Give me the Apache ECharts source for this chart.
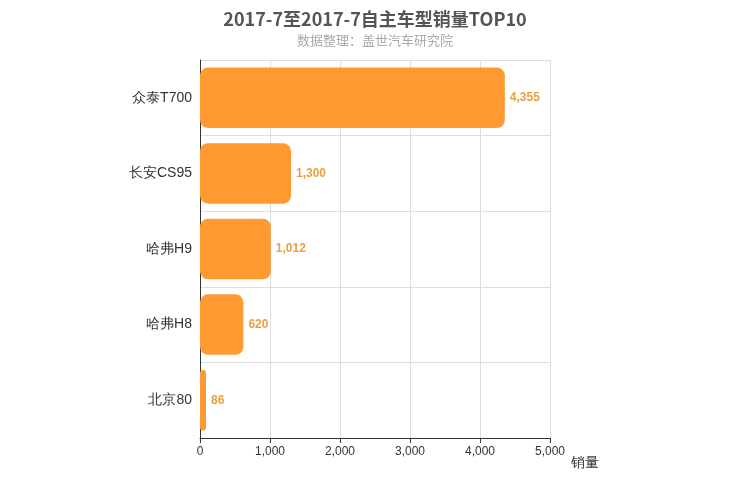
<!DOCTYPE html>
<html><head><meta charset="utf-8">
<script src="https://cdn.jsdelivr.net/npm/echarts@6/dist/echarts.min.js"></script>
<style>html,body{margin:0;padding:0}#c{width:750px;height:500px}</style>
</head><body><div id="c"></div>
<script>
var categories = ['北京80','哈弗H8','哈弗H9','长安CS95','众泰T700'];
var values = [86,620,1012,1300,4355];
var chart = echarts.init(document.getElementById('c'));
chart.setOption({
  title:{text:'2017-7至2017-7自主车型销量TOP10',subtext:'数据整理：盖世汽车研究院',left:'center',top:5,
    textStyle:{fontSize:18,fontWeight:'bold',color:'#555',fontFamily:'Noto Sans CJK SC'},
    subtextStyle:{fontSize:13,color:'#aaa',fontFamily:'Noto Sans CJK SC'},itemGap:6},
  grid:{left:200,right:200,top:60,bottom:62},
  xAxis:{type:'value',min:0,max:5000,interval:1000,name:'销量',nameLocation:'end',nameGap:15,
    nameTextStyle:{fontSize:14,color:'#333',verticalAlign:'top',padding:[18,0,0,0]},
    axisLine:{show:true,lineStyle:{color:'#333'}},axisTick:{show:true},
    axisLabel:{color:'#333',fontSize:12},splitLine:{lineStyle:{color:'#ddd'}}},
  yAxis:{type:'category',data:categories,axisLine:{lineStyle:{color:'#333'}},
    axisLabel:{color:'#333',fontSize:14},splitLine:{show:true,lineStyle:{color:'#ddd'}}},
  series:[{type:'bar',data:values,barWidth:'80%',itemStyle:{color:'#FF9A33',borderRadius:8},
    label:{show:true,position:'right',color:'#E8A040',fontWeight:'bold',fontSize:12,
      formatter:function(p){return p.value.toLocaleString('en-US');}}}]
});
</script></body></html>
